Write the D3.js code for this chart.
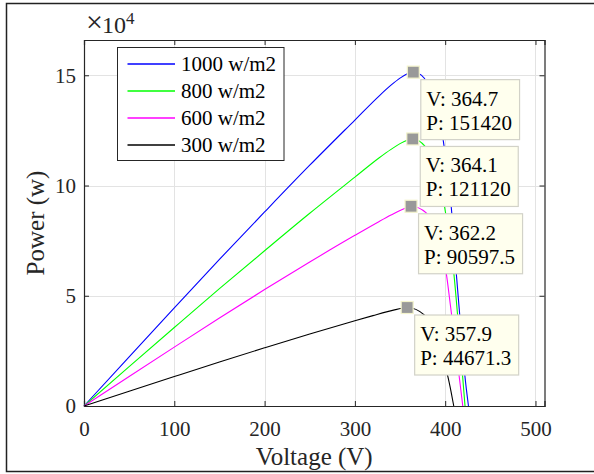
<!DOCTYPE html>
<html>
<head>
<meta charset="utf-8">
<script src="https://cdn.jsdelivr.net/npm/d3@7"></script>
<style>
  html, body { margin: 0; padding: 0; background: #fff; }
  svg { display: block; font-family: "Liberation Serif", "Times New Roman", serif; }
</style>
</head>
<body>
<div id="chart"></div>
<script>
// P-V curves (power in W)
const voltage1000 = [0, 50, 100, 150, 200, 250, 300, 327, 340, 350, 358, 364.7, 373.6, 380, 386, 392, 397.5, 402, 406.7, 412.3, 417, 421.5, 425.8];
const power1000   = [0, 22300, 44500, 66500, 88000, 109200, 129700, 140700, 145500, 148700, 150700, 151420, 150050, 146500, 140000, 131000, 121350, 107500, 90340, 60150, 37000, 15000, 0];

const voltage800 = [0, 50, 100, 150, 200, 250, 300, 327, 340, 350, 358, 364.1, 377.5, 385, 392, 399.3, 404.5, 409.6, 414, 418, 422];
const power800   = [0, 17840, 35600, 53200, 70400, 87400, 103800, 112600, 116400, 119000, 120550, 121120, 117900, 112000, 103500, 90340, 77000, 60150, 40000, 20000, 0];

const voltage600 = [0, 50, 100, 150, 200, 250, 300, 327, 340, 350, 357, 362.2, 379, 388, 395, 401.2, 406, 411, 415.5, 419.5];
const power600   = [0, 13380, 26700, 39900, 52800, 65300, 77400, 83700, 86600, 88700, 89950, 90597.5, 87620, 80500, 71500, 60150, 45000, 28500, 13500, 0];

const voltage300 = [0, 50, 100, 150, 200, 250, 300, 320, 335, 345, 352, 357.9, 377.2, 383, 390, 396, 403, 406.5, 409.5];
const power300   = [0, 6690, 13350, 19950, 26400, 32700, 38700, 41000, 42700, 43700, 44300, 44671.3, 41250, 37500, 30000, 22000, 13280, 6500, 0];

const seriesNames  = ['1000 w/m2', '800 w/m2', '600 w/m2', '300 w/m2'];
const seriesColors = ['#0000ff', '#00ff00', '#ff00ff', '#000000'];

// data tips (maximum power points)
const tipVoltage = [364.7, 364.1, 362.2, 357.9];
const tipPower   = [151420, 121120, 90597.5, 44671.3];
const tipLabelP  = ['151420', '121120', '90597.5', '44671.3'];

const xTicks = [0, 100, 200, 300, 400, 500];
const yTicks = [0, 50000, 100000, 150000];

const W = 594, H = 474;
const plot = { left: 84, top: 40, right: 544.5, bottom: 406 };
const serif = '"Liberation Serif", "Times New Roman", serif';

const svg = d3.select('#chart').append('svg')
    .attr('width', W)
    .attr('height', H);

// outer figure frame
svg.append('rect')
    .attr('x', 6.5).attr('y', 3.5)
    .attr('width', 620).attr('height', 468)
    .attr('fill', 'none')
    .attr('stroke', '#222')
    .attr('stroke-width', 1.5);

const x = d3.scaleLinear().domain([0, 510]).range([plot.left, plot.right]);
const y = d3.scaleLinear().domain([0, 166000]).range([plot.bottom, plot.top]);

// grid
const grid = svg.append('g').attr('stroke', '#e3e3e3').attr('stroke-width', 1);
grid.selectAll('.gx').data(xTicks.slice(1)).enter().append('line')
    .attr('x1', d => Math.round(x(d)) + 0.5).attr('x2', d => Math.round(x(d)) + 0.5)
    .attr('y1', plot.top).attr('y2', plot.bottom);
grid.selectAll('.gy').data(yTicks.slice(1)).enter().append('line')
    .attr('y1', d => Math.round(y(d)) + 0.5).attr('y2', d => Math.round(y(d)) + 0.5)
    .attr('x1', plot.left).attr('x2', plot.right);

// axes (MATLAB style: ticks inward, box on)
const tickFmtY = d => d3.format('d')(d / 1e4);
const axisColor = '#262626';

const xAxis = svg.append('g')
    .attr('transform', `translate(0,${plot.bottom})`)
    .call(d3.axisBottom(x).tickValues(xTicks).tickSize(-5).tickPadding(15).tickFormat(d3.format('d')));
const xTop = svg.append('g')
    .attr('transform', `translate(0,${plot.top})`)
    .call(d3.axisTop(x).tickValues(xTicks).tickSize(-5).tickFormat(''));
const yAxis = svg.append('g')
    .attr('transform', `translate(${plot.left},0)`)
    .call(d3.axisLeft(y).tickValues(yTicks).tickSize(-5).tickPadding(8).tickFormat(tickFmtY));
const yRight = svg.append('g')
    .attr('transform', `translate(${plot.right},0)`)
    .call(d3.axisRight(y).tickValues(yTicks).tickSize(-5).tickFormat(''));

[xAxis, xTop, yAxis, yRight].forEach(g => {
  g.select('.domain').attr('stroke', axisColor).attr('stroke-width', 1.2);
  g.selectAll('.tick line').attr('stroke', axisColor);
  g.selectAll('.tick text')
      .attr('fill', '#262626')
      .style('font-family', serif)
      .style('font-size', '21px');
});

// exponent label: ×10^4
svg.append('text')
    .attr('x', 86).attr('y', 32)
    .attr('font-size', 30)
    .attr('fill', '#262626')
    .text('\u00d7');
svg.append('text')
    .attr('x', 102).attr('y', 33)
    .attr('font-size', 24)
    .attr('fill', '#262626')
    .text('10');
svg.append('text')
    .attr('x', 126).attr('y', 24)
    .attr('font-size', 17)
    .attr('fill', '#262626')
    .text('4');

// axis labels
svg.append('text')
    .attr('x', (plot.left + plot.right) / 2).attr('y', 465)
    .attr('text-anchor', 'middle')
    .attr('fill', '#262626')
    .style('font-size', '25px')
    .text('Voltage (V)');
svg.append('text')
    .attr('transform', `translate(44,${(plot.top + plot.bottom) / 2}) rotate(-90)`)
    .attr('text-anchor', 'middle')
    .attr('fill', '#262626')
    .style('font-size', '25px')
    .text('Power (w)');

// curves
const allSeries = [
  voltage1000.map((v, i) => [v, power1000[i]]),
  voltage800.map((v, i) => [v, power800[i]]),
  voltage600.map((v, i) => [v, power600[i]]),
  voltage300.map((v, i) => [v, power300[i]])
];

const line = d3.line()
    .x(d => x(d[0]))
    .y(d => y(d[1]))
    .curve(d3.curveMonotoneX);

svg.append('g').selectAll('path')
    .data(allSeries)
    .enter().append('path')
      .attr('d', line)
      .attr('fill', 'none')
      .attr('stroke', (d, i) => seriesColors[i])
      .attr('stroke-width', 1.1);

// legend
const legend = svg.append('g');
legend.append('rect')
    .attr('x', 117.5).attr('y', 47.5)
    .attr('width', 166.5).attr('height', 113)
    .attr('fill', '#fff')
    .attr('stroke', '#262626')
    .attr('stroke-width', 1);
seriesNames.forEach((name, i) => {
  const cy = 64 + i * 27;
  legend.append('line')
      .attr('x1', 127.5).attr('x2', 175)
      .attr('y1', cy).attr('y2', cy)
      .attr('stroke', seriesColors[i])
      .attr('stroke-width', 1.5);
  legend.append('text')
      .attr('x', 181).attr('y', cy + 7)
      .attr('fill', '#000')
      .style('font-size', '21px')
      .text(name);
});

// data tips
const tips = svg.append('g');
tipVoltage.forEach((v, i) => {
  const mx = x(v), my = y(tipPower[i]);
  const bx = mx + 7.5, by = my + 7.5;
  const g = tips.append('g');
  const box = g.append('rect')
      .attr('x', bx).attr('y', by)
      .attr('height', 60)
      .attr('fill', '#ffffee')
      .attr('stroke', '#d2d2c8')
      .attr('stroke-width', 1.2);
  const t1 = g.append('text')
      .attr('x', bx + 5.5).attr('y', by + 26)
      .style('font-size', '21px')
      .text('V: ' + v);
  const t2 = g.append('text')
      .attr('x', bx + 5.5).attr('y', by + 50)
      .style('font-size', '21px')
      .text('P: ' + tipLabelP[i]);
  const w = Math.max(t1.node().getComputedTextLength(), t2.node().getComputedTextLength());
  box.attr('width', w + 13);

  g.append('rect')
      .attr('x', mx - 6).attr('y', my - 6)
      .attr('width', 12).attr('height', 12)
      .attr('fill', '#999999')
      .attr('stroke', '#f4f4cc')
      .attr('stroke-width', 1.2);
});
</script>
</body>
</html>
